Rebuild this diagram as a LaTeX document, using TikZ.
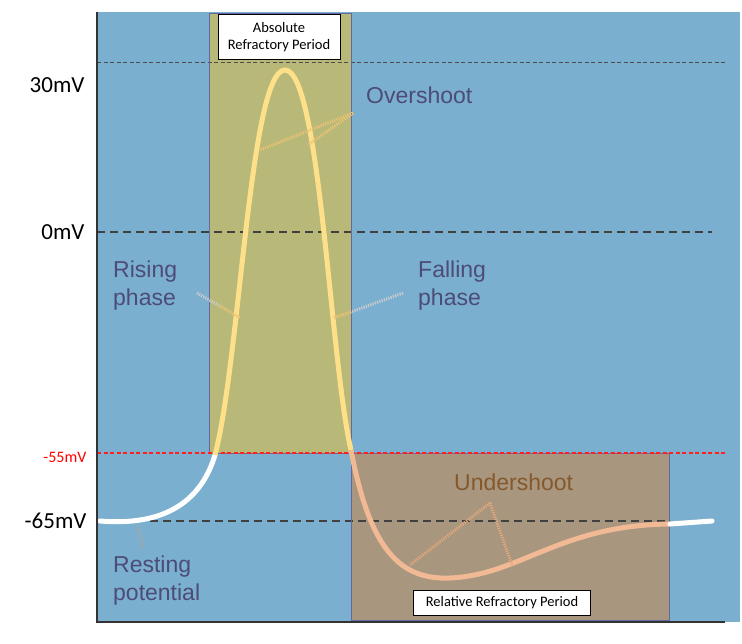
\documentclass[tikz,border=0pt]{standalone}
\usepackage{fontspec}
\setmainfont{Carlito}
\newfontfamily\hel{Liberation Sans}
\begin{document}
\begin{tikzpicture}[x=1pt,y=-1pt,
  lbl/.style={font=\fontsize{23}{23}\selectfont, anchor=east},
  word/.style={font=\hel\fontsize{23}{28}\selectfont, text=black!60!blue!40!gray, align=left, anchor=north west, inner sep=0},
  ptr/.style={line width=3pt, dash pattern=on 1.2pt off 1.2pt, line cap=butt},
  period/.style={draw=black!60!blue!60, line width=0.6pt},
  tag/.style={draw=black, fill=white, line width=0.8pt, align=center, font=\fontsize{14.5}{17}\selectfont, inner sep=2pt}]
\useasboundingbox (0,0) rectangle (742,643);
\definecolor{bg}{HTML}{7BAFD0}
\definecolor{olive}{HTML}{B8B878}
\definecolor{brownbox}{HTML}{A8967F}
\definecolor{spike}{HTML}{FFE08A}
\definecolor{peach}{HTML}{F2B995}
\definecolor{redline}{HTML}{FF2020}
\fill[bg] (97,12) rectangle (740,622);
\fill[olive] (209,13) rectangle (351,453);
\fill[brownbox] (351,453) rectangle (669,620);
\draw[black!70, line width=0.7pt, dash pattern=on 4pt off 2.5pt] (97,62) -- (725,62);
\draw[black!75, line width=1.4pt, dash pattern=on 8pt off 5pt] (97,232) -- (712,232);
\draw[black!75, line width=1.4pt, dash pattern=on 8pt off 5pt] (150,521) -- (670,521);
\draw[period] (209,13) rectangle (351,453);
\draw[period] (351,453) rectangle (669,620);
\draw[redline, line width=1.1pt, dash pattern=on 4pt off 2.5pt] (97,453) -- (725,453);
% curve
\draw[white, line width=5pt, line cap=round] (100,521) .. controls (160,526) and (200,505) .. (215,455);
\draw[spike, line width=5pt] (215,455) .. controls (240,360) and (250,70) .. (285,70) .. controls (320,70) and (330,360) .. (351,450);
\draw[peach, line width=5pt] (351,450) .. controls (370,550) and (400,580) .. (450,578) .. controls (520,575) and (560,525) .. (670,524);
\draw[white, line width=5pt, line cap=round] (670,524) -- (712,521);
\draw[black!80, line width=1.4pt] (97,12) -- (97,622) -- (725,622);
% tags
\node[tag, minimum width=122pt, minimum height=45pt] (abs) at (279,37) {Absolute\\Refractory Period};
\node[tag, minimum width=177pt, minimum height=25pt] (rel) at (502,603) {Relative Refractory Period};
% labels
\node[lbl] (l30) at (88,85) {30mV};
\node[lbl] (l0) at (88,232) {0mV};
\node[lbl, text=red, font=\fontsize{16}{16}\selectfont] (l55) at (90,457) {-55mV};
\node[lbl] (l65) at (90,521) {-65mV};
% words
\node[word] (over) at (366,87) {Overshoot};
\node[word] (rise) at (113,261) {Rising\\phase};
\node[word] (fall) at (418,261) {Falling\\phase};
\node[word] (rest) at (113,556) {Resting\\potential};
\node[word, text=brown!70!black] (under) at (454,474) {Undershoot};
% pointers
\coordinate (o1) at (353,113); \coordinate (o2) at (260,150); \coordinate (o3) at (308,145);
\draw[ptr, spike!70!brown] (o1) -- (o2); \draw[ptr, spike!70!brown] (o1) -- (o3);
\coordinate (r1) at (197,293); \coordinate (r2) at (240,318);
\draw[ptr, gray!40] (r1) -- (220,306); \draw[ptr, spike!70!brown] (220,306) -- (r2);
\coordinate (f1) at (403,293); \coordinate (f2) at (333,318);
\draw[ptr, gray!40] (f1) -- (351,312); \draw[ptr, spike!70!brown] (351,312) -- (f2);
\coordinate (p1) at (138,526); \coordinate (p2) at (143,548);
\draw[ptr, gray!70] (p1) -- (p2);
\coordinate (u1) at (490,503); \coordinate (u2) at (410,565); \coordinate (u3) at (512,565);
\draw[ptr, peach!70!brown] (u1) -- (u2); \draw[ptr, peach!70!brown] (u1) -- (u3);
\end{tikzpicture}
\end{document}
